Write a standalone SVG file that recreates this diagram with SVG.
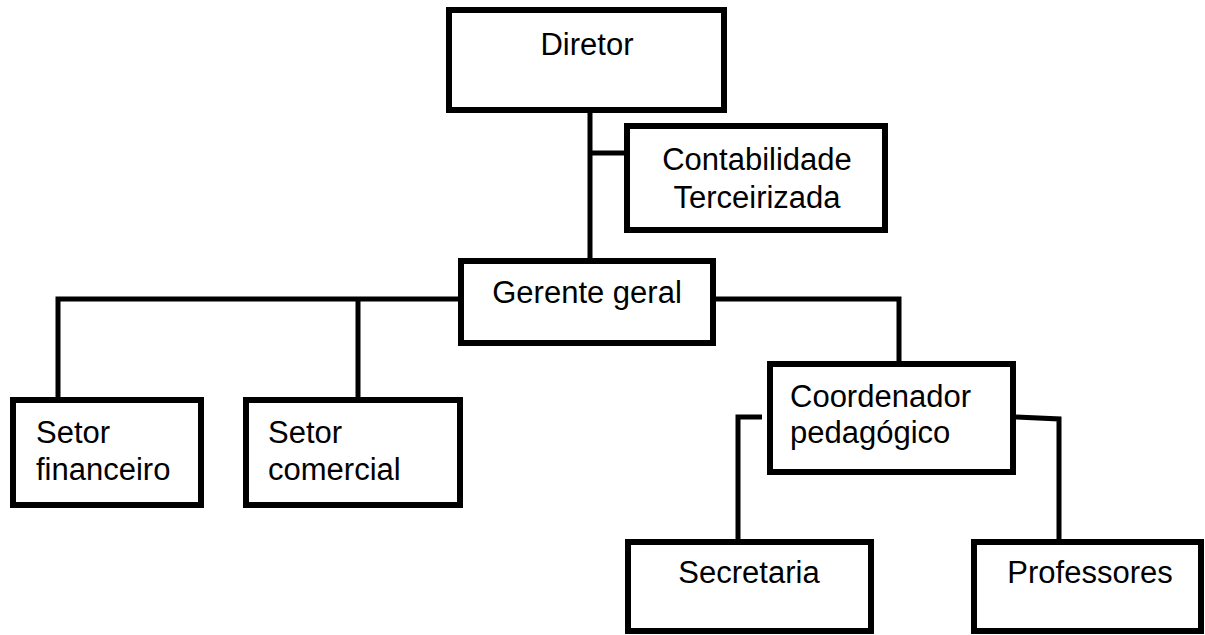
<svg xmlns="http://www.w3.org/2000/svg" width="1205" height="635" viewBox="0 0 1205 635">
<style>
.box{fill:#fff;stroke:#000;stroke-width:6}
.ln{fill:none;stroke:#000;stroke-width:5}
text{font-family:"Liberation Sans",Arial,sans-serif;font-size:31px;fill:#000}
.c{text-anchor:middle}
</style>
<rect width="1205" height="635" fill="#fff"/>
<g id="connectors">
<line class="ln" x1="590" y1="113" x2="590" y2="258"/>
<line class="ln" x1="590" y1="153" x2="624" y2="153"/>
<polyline class="ln" points="58,397 58,299 458,299"/>
<line class="ln" x1="358" y1="299" x2="358" y2="397"/>
<polyline class="ln" points="716,299 899,299 899,361"/>
<polyline class="ln" points="762,417 738,417 738,539"/>
<polyline class="ln" points="1016,417 1059,419 1059,539"/>
</g>
<g id="diretor"><rect class="box" x="449" y="10" width="275" height="100"/><text class="c" x="587" y="55">Diretor</text></g>
<g id="contabilidade"><rect class="box" x="627" y="126" width="258" height="104"/><text class="c" x="757" y="170">Contabilidade</text><text class="c" x="757" y="208">Terceirizada</text></g>
<g id="gerente"><rect class="box" x="461" y="261" width="252" height="82"/><text class="c" x="587" y="303">Gerente geral</text></g>
<g id="setor-financeiro"><rect class="box" x="13" y="400" width="188" height="105"/><text x="36" y="443">Setor</text><text x="36" y="480">financeiro</text></g>
<g id="setor-comercial"><rect class="box" x="246" y="400" width="214" height="105"/><text x="268" y="443">Setor</text><text x="268" y="480">comercial</text></g>
<g id="coordenador"><rect class="box" x="770" y="364" width="243" height="108"/><text x="790" y="407">Coordenador</text><text x="790" y="443">pedagógico</text></g>
<g id="secretaria"><rect class="box" x="628" y="542" width="243" height="89"/><text class="c" x="749" y="583">Secretaria</text></g>
<g id="professores"><rect class="box" x="974" y="542" width="227" height="89"/><text class="c" x="1090" y="583">Professores</text></g>
</svg>
